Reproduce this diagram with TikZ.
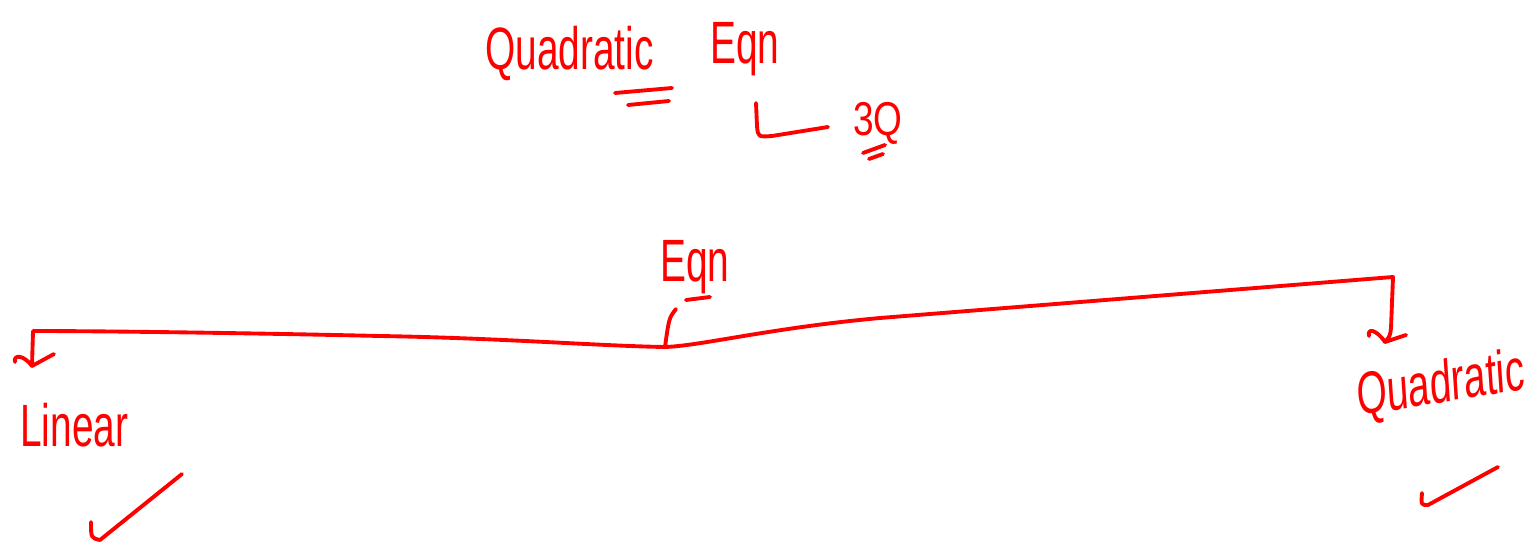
\documentclass[tikz,border=0pt]{standalone}
\usepackage{fontspec}
\setmainfont{Liberation Sans}

\tikzset{
  ink/.style={red,line width=2.2pt,line cap=round,line join=round},
  word/.style={text=red,font=\fontsize{34}{34}\selectfont,xscale=0.65,inner sep=0pt,anchor=base west}
}

\begin{document}
\begin{tikzpicture}[x=0.02cm,y=-0.02cm]
    \useasboundingbox (0,0) rectangle (1538,550);
    \node[word] (topquad) at (485,70) {Quadratic};
    \node[word] (topeqn) at (710,64) {Eqn};
    \node[word,font=\fontsize{27}{27}\selectfont,xscale=1.2] (threeq) at (853,136) {3Q};
    \node[word] (eqn) at (660,282) {Eqn};
    \node[word] (linear) at (20,446) {Linear};
    \node[word,rotate=6] (quad) at (1358,416) {Quadratic};
    \foreach \xa/\ya/\xb/\yb in {615/93/672/88, 628/105/669/101, 863/153/885/145, 869/159/883/154, 686/300/710/297}
    \draw[ink] (\xa,\ya) -- (\xb,\yb);
    \coordinate (lstart) at (756,103);
    \coordinate (lend) at (828,127);
    \draw[ink] (lstart) -- (757,126) .. controls (758,137) .. (772,136) -- (lend);
    \coordinate (hub) at (665,347);
    \coordinate (lcorner) at (33,331);
    \coordinate (ltip) at (32,366);
    \coordinate (rcorner) at (1393,277);
    \coordinate (rtip) at (1385,342);
    \draw[ink] (676,309) .. controls (669,318) .. (hub);
    \draw[ink] (hub) .. controls (600,346) and (500,338) .. (380,336) .. controls (250,333) and (100,331) .. (lcorner) -- (ltip);
    \draw[ink] (15,362) .. controls (13,354) and (24,355) .. (ltip) -- (54,354);
    \draw[ink] (hub) .. controls (700,346) and (770,328) .. (880,318) -- (rcorner) -- (1391,328) .. controls (1390,336) .. (rtip);
    \draw[ink] (1369,336) .. controls (1367,328) and (1376,329) .. (rtip) -- (1406,335);
    \draw[ink] (91,522) .. controls (91,538) .. (100,540) -- (182,474);
    \draw[ink] (1422,493) .. controls (1421,505) .. (1428,505) -- (1498,467);
\end{tikzpicture}
\end{document}
